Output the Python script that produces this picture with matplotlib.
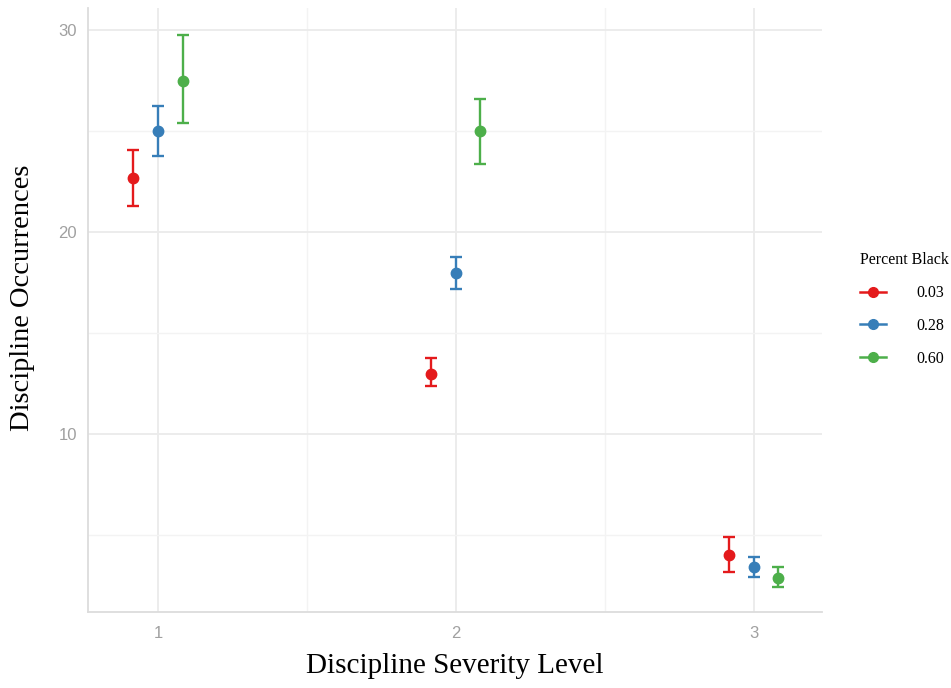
import matplotlib.pyplot as plt
from matplotlib.lines import Line2D

# values
levels = [1, 2, 3]
groups = ['0.03', '0.28', '0.60']
colors = ['#E41A1C', '#377EB8', '#4DAF4A']
means = {
    '0.03': [22.7, 13.0, 4.0],
    '0.28': [25.0, 18.0, 3.45],
    '0.60': [27.5, 25.0, 2.9],
}
lower = {
    '0.03': [21.3, 12.4, 3.2],
    '0.28': [23.75, 17.2, 2.95],
    '0.60': [25.4, 23.4, 2.45],
}
upper = {
    '0.03': [24.05, 13.75, 4.9],
    '0.28': [26.25, 18.75, 3.9],
    '0.60': [29.75, 26.6, 3.45],
}
dodge = [-0.083, 0.0, 0.083]

fig = plt.figure(figsize=(9.51, 6.88), dpi=100)
ax = fig.add_axes([88/951, 76/688, (822-88)/951, (612-8)/688])

for g, c, d in zip(groups, colors, dodge):
    xs = [lv + d for lv in levels]
    m = means[g]
    err = [[mi - lo for mi, lo in zip(m, lower[g])],
           [hi - mi for mi, hi in zip(m, upper[g])]]
    ax.errorbar(xs, m, yerr=err, fmt='o', color=c, ms=7.5, elinewidth=1.7,
                capsize=4.5, capthick=1.7, zorder=3)

ax.set_xlim(0.765, 3.23)
ax.set_ylim(1.2, 31.1)
ax.set_xticks(levels)
ax.set_xticks([1.5, 2.5], minor=True)
ax.set_yticks([10, 20, 30])
ax.set_yticks([5, 15, 25], minor=True)
ax.grid(True, which='major', color='#EBEBEB', lw=1.3, zorder=0)
ax.grid(True, which='minor', color='#F3F3F3', lw=1.0, zorder=0)
ax.set_axisbelow(True)
for s in ['top', 'right']:
    ax.spines[s].set_visible(False)
for s in ['left', 'bottom']:
    ax.spines[s].set_color('#DCDCDC')
    ax.spines[s].set_linewidth(1.3)
ax.tick_params(which='both', length=0, labelsize=12, labelcolor='#A0A0A0')
ax.tick_params(axis='x', pad=10)
ax.tick_params(axis='y', pad=8)
for lab in ax.get_xticklabels() + ax.get_yticklabels():
    lab.set_fontfamily('Liberation Sans')

ax.set_xlabel('Discipline Severity Level', family='Liberation Serif',
              fontsize=21, labelpad=9)
ax.set_ylabel('Discipline Occurrences', family='Liberation Serif',
              fontsize=20.5)
ax.yaxis.set_label_coords(-0.072, 0.52)

handles = [Line2D([0], [0], color=c, marker='o', ms=7, lw=1.8) for c in colors]
leg = fig.legend(handles, groups, title='Percent Black', loc='upper left',
                 bbox_to_anchor=(846/951, 1 - 238/688), frameon=False,
                 prop={'family': 'Liberation Serif', 'size': 11.5},
                 handlelength=1.6, handletextpad=1.9, labelspacing=1.05)
leg.get_title().set_fontfamily('Liberation Serif')
leg.get_title().set_fontsize(11.5)
leg._legend_box.align = 'left'

fig.savefig('out.png', dpi=100)
